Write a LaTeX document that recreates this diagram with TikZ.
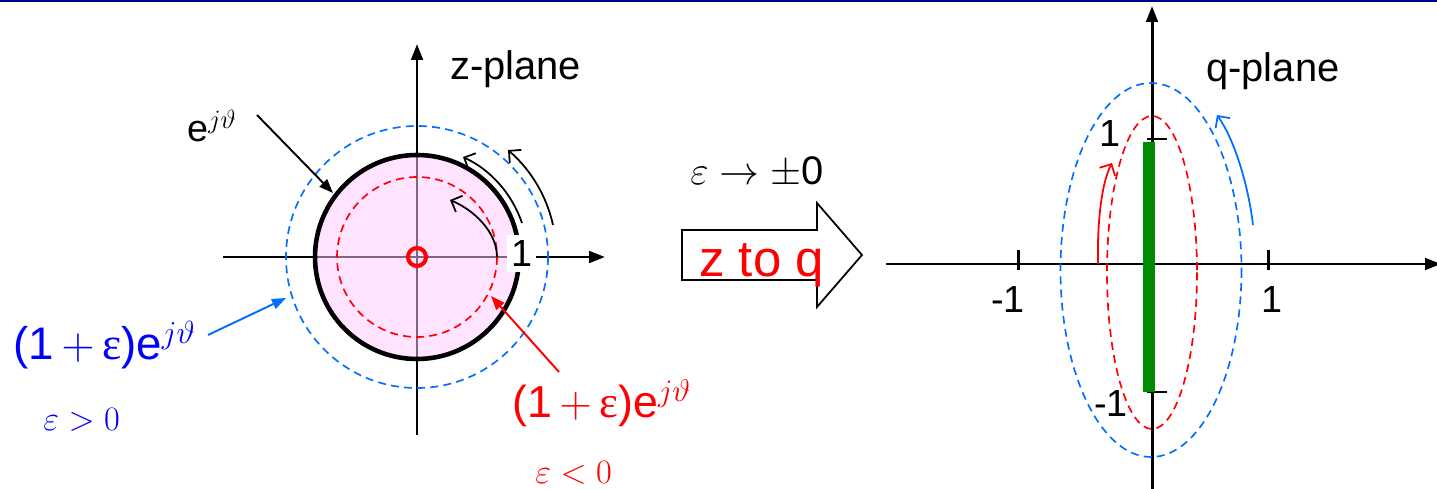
\RequirePackage{fix-cm}
\documentclass[tikz,border=0pt]{standalone}
\usepackage{fontspec}
\setmainfont{Liberation Sans}
\newfontfamily\epsfont{Liberation Serif}
\usetikzlibrary{arrows.meta}
\definecolor{navybar}{RGB}{0,0,140}
\definecolor{dashblue}{RGB}{0,110,255}
\definecolor{pinkfill}{RGB}{255,200,255}
\definecolor{bargreen}{RGB}{0,140,0}
\definecolor{txtblue}{RGB}{0,0,255}
\definecolor{txtred}{RGB}{255,0,0}
\newcommand\pxs[1]{\fontsize{#1}{#1}\selectfont}
\begin{document}
\begin{tikzpicture}[x=0.02cm,y=-0.02cm,
  axis/.style={line width=1.7pt,-{Triangle[length=9pt,width=6.5pt]}},
  lbl/.style={inner sep=0pt,anchor=base west},
  dashz/.style={line width=0.95pt,dash pattern=on 4.5pt off 3pt},
  swirl/.style={line width=1.0pt,-{Straight Barb[length=5pt,width=10pt]}},
  pointer/.style={line width=1.1pt,-{Triangle[length=8pt,width=6pt]}},
  tick/.style={line width=1.7pt}]
\useasboundingbox (0,0) rectangle (1437,489);
\fill[navybar] (0,0) rectangle (1437,2.5);

% ---------- z-plane ----------
\coordinate (zO) at (417,257);
\coordinate (zxl) at (223,257);
\coordinate (zxr) at (605,257);
\coordinate (zyb) at (417,435);
\coordinate (zyt) at (417,44);
\draw[axis] (zxl) -- (zxr);
\draw[axis] (zyb) -- (zyt);
\fill[pinkfill,fill opacity=0.5] (zO) circle [radius=102];
\draw[line width=2.6pt] (zO) circle [radius=102];
\draw[dashz,txtred] (zO) circle [radius=80];
\draw[dashz,dashblue] (zO) circle [radius=131];
\draw[txtred,line width=2.3pt] (zO) circle [radius=9];
\node[fill=white,inner sep=0pt,minimum width=0.58cm,minimum height=0.74cm,font=\pxs{21.5pt}] (zone) at (521.5,253.5) {1};

\node[lbl,font=\pxs{22.7pt}] (zplane) at (450,80) {z-plane};

% curved arrows
\coordinate (s1) at (497,257); \coordinate (t1) at (450,200);
\draw[swirl] (s1) .. controls (497,232) and (474,210) .. (t1);
\coordinate (s2) at (522,223); \coordinate (t2) at (463,157);
\draw[swirl] (s2) .. controls (512,194) and (491,170) .. (t2);
\coordinate (s3) at (553,225); \coordinate (t3) at (508,150);
\draw[swirl] (s3) .. controls (546.6,196) and (531,170) .. (t3);

% labels and pointers
\node[lbl,font=\pxs{21.5pt}] (ejt) at (187,142) {e$^{j\vartheta}$};
\coordinate (pe0) at (257,115); \coordinate (pe1) at (333,193);
\draw[pointer] (pe0) -- (pe1);

\node[lbl,font=\pxs{26pt},text=txtblue] (bluelab) at (13,360) {(1\,$+$\,{\epsfont ε})e$^{j\vartheta}$};
\node[lbl,font=\pxs{19.5pt},text=txtblue] (bluecond) at (43,431) {$\varepsilon>0$};
\coordinate (pb0) at (208,335); \coordinate (pb1) at (286,298);
\draw[pointer,dashblue] (pb0) -- (pb1);

\node[lbl,font=\pxs{25.5pt},text=txtred] (redlab) at (512,418) {(1\,$+$\,{\epsfont ε})e$^{j\vartheta}$};
\node[lbl,font=\pxs{19.5pt},text=txtred] (redcond) at (535,483) {$\varepsilon<0$};
\coordinate (pr0) at (559,372); \coordinate (pr1) at (491,296);
\draw[pointer,txtred] (pr0) -- (pr1);

% ---------- transform arrow ----------
\node[lbl,font=\pxs{22.7pt}] (limit) at (690,185) {$\varepsilon\rightarrow\pm$0};
\draw[line width=1.0pt,fill=white] (682,230) -- (817,230) -- (817,203) -- (862,255) -- (817,307) -- (817,280) -- (682,280) -- cycle;
\node[lbl,font=\pxs{29pt},text=txtred] (ztoq) at (699,277) {z to q};

% ---------- q-plane ----------
\coordinate (qO) at (1152,264);
\coordinate (qxl) at (886,264);
\coordinate (qxr) at (1441,264);
\coordinate (qyb) at (1152,489);
\coordinate (qyt) at (1152,6);
\draw[axis] (qxl) -- (qxr);
\draw[axis] (qyb) -- (qyt);
\draw[tick] (1018,250) -- (1018,270);
\draw[tick] (1268,250) -- (1268,270);
\draw[tick] (1147,139) -- (1167,139);
\draw[tick] (1147,392) -- (1167,392);
\fill[bargreen] (1143,142) rectangle (1154.5,392);
\draw[dashz,txtred] (1152,272.5) ellipse [x radius=45, y radius=156.5];
\draw[dashz,dashblue] (1151,270) ellipse [x radius=90.5, y radius=187];

\node[lbl,font=\pxs{21.5pt}] (qy1) at (1099,147) {1};
\node[lbl,font=\pxs{21.5pt}] (qym1) at (1094,417) {-1};
\node[lbl,font=\pxs{21.5pt}] (qxm1) at (991,313) {-1};
\node[lbl,font=\pxs{21.5pt}] (qx1) at (1261,313) {1};
\node[lbl,font=\pxs{22.7pt}] (qplane) at (1206,82) {q-plane};

\coordinate (rs) at (1098,264); \coordinate (rt) at (1112,163);
\draw[swirl,txtred] (rs) .. controls (1097,215) and (1103,180) .. (rt);
\coordinate (bs) at (1253,225); \coordinate (bt) at (1217,115);
\draw[swirl,dashblue] (bs) .. controls (1249,190) and (1236,142) .. (bt);
\end{tikzpicture}
\end{document}
